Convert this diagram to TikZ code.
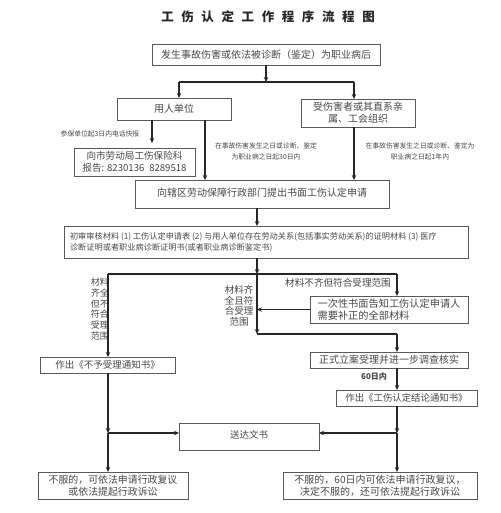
\documentclass[tikz,border=0pt]{standalone}
\usepackage{fontspec}
\setmainfont{Noto Sans CJK SC}
\usetikzlibrary{arrows.meta}
\newcommand\titlesp{\hspace{7.6pt}}
\begin{document}
\begin{tikzpicture}[x=1pt,y=-1pt,
  box/.style={draw=black!65, line width=0.8pt, inner sep=0pt, outer sep=0pt, text=black!72, font=\fontsize{10}{12}\selectfont, align=center},
  arr/.style={draw=black!85, line width=1.2pt, -{Stealth[length=5pt,width=4.5pt]}},
  ln/.style={draw=black!85, line width=1.2pt},
  lbl/.style={text=black!72, inner sep=0pt, align=center},
  small/.style={lbl, font=\fontsize{6.8}{11}\selectfont},
]
\fill[white] (0,0) rectangle (500,513);
\useasboundingbox (0,0) rectangle (500,513);

\node[lbl, text=black!85, font=\fontsize{12.5}{14}\selectfont\bfseries] (title) at (268,17)
  {工\titlesp 伤\titlesp 认\titlesp 定\titlesp 工\titlesp 作\titlesp 程\titlesp 序\titlesp 流\titlesp 程\titlesp 图};

\node[box, minimum width=228, minimum height=21] (b1) at (266,54.5) {发生事故伤害或依法被诊断（鉴定）为职业病后};
\node[box, minimum width=114, minimum height=22] (b2) at (174,109) {用人单位};
\node[box, minimum width=114, minimum height=28] (b3) at (358,113) {受伤害者或其直系亲\\属、工会组织};
\node[box, minimum width=121, minimum height=28, font=\fontsize{9.6}{12}\selectfont] (b4) at (134.5,162) {向市劳动局工伤保险科\\报告: 8230136\enspace 8289518};
\node[box, minimum width=254, minimum height=28] (b5) at (262,194) {\raisebox{3pt}{向辖区劳动保障行政部门提出书面工伤认定申请}};
\node[box, minimum width=404, minimum height=32, align=left, font=\fontsize{8.2}{11}\selectfont] (b6) at (266,242)
  {\raisebox{3pt}{\parbox{392pt}{初审审核材料 (1) 工伤认定申请表 (2) 与用人单位存在劳动关系(包括事实劳动关系)的证明材料 (3) 医疗\\诊断证明或者职业病诊断证明书(或者职业病诊断鉴定书)}}};
\node[box, minimum width=158, minimum height=27, align=left, font=\fontsize{10.2}{11.5}\selectfont] (b7) at (389,309.5) {一次性书面告知工伤认定申请人\\需要补正的全部材料};
\node[box, minimum width=135, minimum height=16, font=\fontsize{9.5}{11}\selectfont] (b8) at (107.5,365) {作出《不予受理通知书》};
\node[box, minimum width=158, minimum height=16] (b9) at (389,360) {正式立案受理并进一步调查核实};
\node[box, minimum width=141, minimum height=16, font=\fontsize{9.4}{11}\selectfont] (b10) at (406.5,398) {作出《工伤认定结论通知书》};
\node[box, minimum width=140, minimum height=27, font=\fontsize{9.5}{11}\selectfont] (b11) at (249,436.5) {\raisebox{5pt}{送达文书}};
\node[box, minimum width=150, minimum height=27, font=\fontsize{9.9}{12}\selectfont] (b12) at (113,485.5) {不服的，可依法申请行政复议\\或依法提起行政诉讼};
\node[box, minimum width=194, minimum height=27] (b13) at (380,485.5) {不服的，60日内可依法申请行政复议，\\决定不服的，还可依法提起行政诉讼};

% labels
\node[small] (l1) at (100,134) {参保单位起3日内电话快报};
\node[small] (l2) at (266,151) {在事故伤害发生之日或诊断、鉴定\\为职业病之日起30日内};
\node[small] (l3) at (420,151) {在事故伤害发生之日或诊断、鉴定为\\职业病之日起1年内};
\node[lbl, anchor=east, font=\fontsize{9}{10.8}\selectfont] (l4) at (109,309) {材料\\齐全\\但不\\符合\\受理\\范围};
\node[lbl, font=\fontsize{9.5}{10.6}\selectfont] (l5) at (239,306) {材料齐\\全且符\\合受理\\范围};
\node[lbl, font=\fontsize{9.6}{11}\selectfont] (l6) at (338,283) {材料不齐但符合受理范围};
\node[lbl, font=\fontsize{8}{10}\selectfont\bfseries] (l7) at (374,376) {60日内};

% helper coordinates
\coordinate (xa) at (152,0);
\coordinate (xb) at (205,0);
\coordinate (xc) at (257,0);
\coordinate (xd) at (108,0);
\coordinate (xe) at (397,0);
\coordinate (j1) at (266,82);
\coordinate (j1l) at (179,82);
\coordinate (j1r) at (354,82);
\coordinate (j2) at (257,274);
\coordinate (j2l) at (108,274);
\coordinate (j2r) at (397,274);
\coordinate (j3) at (257,334);
\coordinate (j3r) at (397,334);
\coordinate (j4) at (397,433);
\coordinate (j5) at (108,433);

% connectors
\draw[arr] (b1.south) -- (j1);
\draw[ln] (j1l) -- (j1r);
\draw[arr] (j1l) -- (j1l |- b2.north);
\draw[arr] (j1r) -- (j1r |- b3.north);
\draw[arr, shorten >=5pt] (b2.south -| xa) -- (b4.north -| xa);
\draw[arr] (b2.south -| xb) -- (b5.north -| xb);
\draw[arr] (b3.south -| j1r) -- (b5.north -| j1r);
\draw[arr] (b5.south -| xc) -- (b6.north -| xc);
\draw[arr] (b6.south -| xc) -- (j2);
\draw[ln] (j2l) -- (j2r);
\draw[arr] (j2r) -- (b7.north -| j2r);
\draw[arr] (j2l) -- (b8.north -| j2l);
\draw[arr] (j2) -- (j3);
\draw[ln] (j3) -- (j3r);
\draw[arr] (j3r) -- (b9.north -| j3r);
\draw[arr] (b7.west) -- (b7.west -| xc);
\draw[arr] (b9.south -| xe) -- (b10.north -| xe);
\draw[arr] (b10.south -| xe) -- (j4);
\draw[arr] (j4) -- (b11.east |- j4);
\draw[arr] (b8.south -| xd) -- (j5);
\draw[arr] (j5) -- (b11.west |- j5);
\draw[arr] (j5) -- (b12.north -| j5);
\draw[arr] (j4) -- (b13.north -| j4);
\end{tikzpicture}
\end{document}
